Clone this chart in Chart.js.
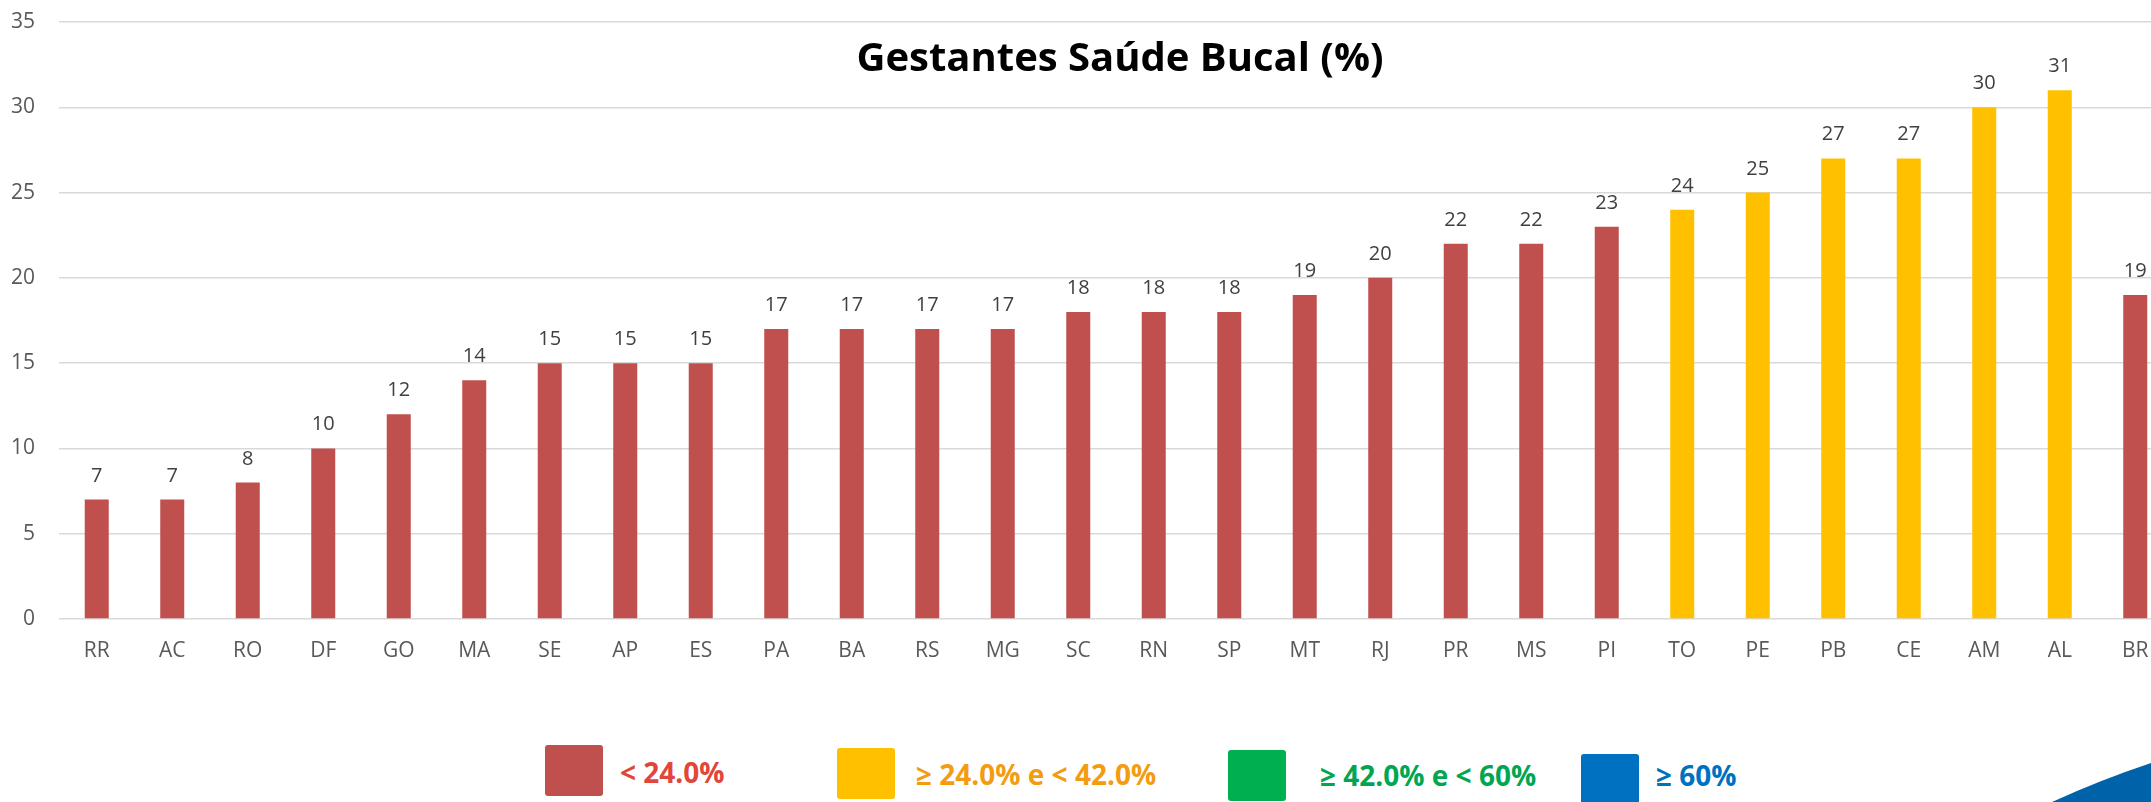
<!DOCTYPE html>
<html>
<head>
<meta charset="utf-8">
<script src="https://cdn.jsdelivr.net/npm/chart.js@4.4.1/dist/chart.umd.min.js"></script>
<style>
  html, body { margin: 0; padding: 0; background: #ffffff; overflow: hidden; width: 2151px; height: 802px; }
  #wrap { position: relative; width: 2151px; height: 802px; overflow: hidden; }
  #c { position: absolute; left: 0; top: 0; display: block; }
  .title { position: absolute; left: 1120px; top: 36px; transform: translateX(-50%); font: bold 40px "Open Sans", sans-serif; line-height: 40px; color: #000; white-space: nowrap; }
  .lbox { position: absolute; width: 58px; height: 51px; border-radius: 3px; }
  .ltxt { position: absolute; font: bold 28px "Open Sans", sans-serif; line-height: 28px; white-space: nowrap; }
  svg.deco { position: absolute; left: 0; top: 0; }
</style>
</head>
<body>
<div id="wrap">
  <canvas id="c" width="2173" height="700"></canvas>
  <div class="title">Gestantes Saúde Bucal (%)</div>

  <div class="lbox" style="left:545px; top:745px; background:#C0504D;"></div>
  <div class="ltxt" style="left:620px; top:758px; color:#E2463A;">&lt; 24.0%</div>

  <div class="lbox" style="left:837px; top:748px; background:#FFC000;"></div>
  <div class="ltxt" style="left:916px; top:760px; color:#F39C12;">≥ 24.0% e &lt; 42.0%</div>

  <div class="lbox" style="left:1228px; top:750px; background:#00B050;"></div>
  <div class="ltxt" style="left:1320px; top:761px; color:#00A651;">≥ 42.0% e &lt; 60%</div>

  <div class="lbox" style="left:1581px; top:754px; height:52px; background:#0070C0;"></div>
  <div class="ltxt" style="left:1656px; top:761px; color:#0070C0;">≥ 60%</div>

  <svg class="deco" width="2151" height="802">
    <path d="M2052 802 Q2100 780 2151 763 L2151 802 Z" fill="#0063AA"/>
  </svg>
</div>
<script>
const categories = ["RR","AC","RO","DF","GO","MA","SE","AP","ES","PA","BA","RS","MG","SC","RN","SP","MT","RJ","PR","MS","PI","TO","PE","PB","CE","AM","AL","BR"];
const values = [7,7,8,10,12,14,15,15,15,17,17,17,17,18,18,18,19,20,22,22,23,24,25,27,27,30,31,19];
const yTicks = [0,5,10,15,20,25,30,35];

const RED = "#C0504D", YELLOW = "#FFC000";

const valueLabels = {
  id: "valueLabels",
  afterDatasetsDraw(chart) {
    const ctx = chart.ctx;
    const meta = chart.getDatasetMeta(0);
    ctx.save();
    ctx.font = '20px "Open Sans"';
    ctx.fillStyle = "#404040";
    ctx.textAlign = "center";
    ctx.textBaseline = "alphabetic";
    meta.data.forEach((bar, i) => {
      ctx.fillText(String(values[i]), bar.x, bar.y - 18);
    });
    ctx.restore();
  }
};

new Chart(document.getElementById("c"), {
  type: "bar",
  data: {
    labels: categories,
    datasets: [{
      data: values,
      backgroundColor: values.map(v => v < 24 ? RED : YELLOW),
      borderWidth: 0,
      barPercentage: 0.318,
      categoryPercentage: 1
    }]
  },
  options: {
    responsive: false,
    animation: false,
    devicePixelRatio: 1,
    layout: { padding: { top: 22, left: 0, right: 0, bottom: 0 } },
    plugins: { legend: { display: false }, title: { display: false }, tooltip: { enabled: false } },
    scales: {
      x: {
        offset: true,
        grid: { display: false, drawTicks: false },
        border: { display: false },
        ticks: { color: "#595959", font: { family: "Open Sans", size: 21 }, padding: 19, maxRotation: 0, autoSkip: false },
        afterFit(s) { s.height = 81; s.paddingLeft = 0; s.paddingRight = 0; }
      },
      y: {
        min: 0, max: 35,
        afterBuildTicks(s) { s.ticks = yTicks.map(v => ({ value: v })); },
        grid: { color: "#D9D9D9", lineWidth: 1.5, drawTicks: false },
        border: { display: false },
        ticks: { color: "#595959", font: { family: "Open Sans", size: 21 }, padding: 24 },
        afterFit(s) { s.width = 59; s.paddingTop = 0; s.paddingBottom = 0; }
      }
    }
  },
  plugins: [valueLabels]
});
</script>
</body>
</html>
